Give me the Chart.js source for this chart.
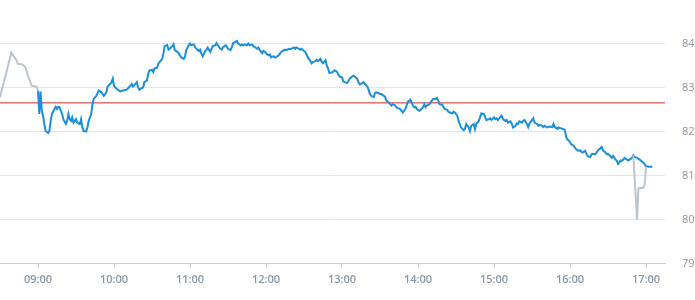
<!DOCTYPE html>
<html>
<head>
<meta charset="utf-8">
<script src="https://cdn.jsdelivr.net/npm/chart.js@4"></script>
<style>
html,body{margin:0;padding:0;background:#fff;}
#c{display:block;}
</style>
</head>
<body>
<canvas id="c" width="695" height="300"></canvas>
<script>
// ---- data ----
const tickLabels = ['09:00','10:00','11:00','12:00','13:00','14:00','15:00','16:00','17:00'];
const axisStart = '08:30';
const axisEnd = '17:15';
const yTicks = [79, 80, 81, 82, 83, 84];
const prevClose = 82.66;

const preTimes  = ['08:30','08:39','08:43','08:44','08:48','08:50','08:52','08:55','08:59','09:00'];
const prePrices = [82.79,83.80,83.63,83.55,83.53,83.47,83.28,83.05,83.03,82.94];

const postTimes  = ['16:50','16:53','16:54','16:58','16:59','17:00'];
const postPrices = [81.47,80.00,80.72,80.73,80.81,81.20];

const sessionTimes = [
'09:00','09:01','09:02','09:03','09:04','09:05','09:06','09:08','09:09','09:10','09:11','09:13','09:14','09:15','09:16','09:17','09:19','09:20','09:22','09:23','09:24','09:25','09:26','09:27','09:28','09:30','09:31','09:33','09:34','09:35','09:36','09:38','09:39','09:40','09:42','09:43','09:44','09:46','09:48','09:50','09:52','09:54','09:55','09:57','09:58','09:59',
'10:00','10:02','10:03','10:05','10:07','10:10','10:13','10:14','10:15','10:17','10:18','10:19','10:20','10:22','10:23','10:24','10:26','10:27','10:28','10:30','10:31','10:32','10:34','10:35','10:36','10:38','10:39','10:40','10:42','10:43','10:44','10:46','10:47','10:48','10:50','10:51','10:52','10:53','10:55','10:56','10:57','10:59',
'11:00','11:01','11:03','11:04','11:05','11:07','11:08','11:09','11:10','11:12','11:13','11:14','11:16','11:17','11:18','11:20','11:21','11:22','11:24','11:25','11:26','11:28','11:29','11:30','11:32','11:33','11:34','11:36','11:37','11:38','11:40','11:41','11:42','11:43','11:45','11:46','11:47','11:49','11:50','11:51','11:53','11:54','11:55','11:57','11:58','11:59',
'12:01','12:02','12:03','12:04','12:06','12:07','12:08','12:10','12:11','12:12','12:14','12:15','12:16','12:18','12:19','12:20','12:22','12:23','12:24','12:26','12:27','12:28','12:30','12:31','12:32','12:33','12:35','12:36','12:37','12:39','12:40','12:41','12:43','12:44','12:45','12:47','12:48','12:49','12:50','12:52','12:53','12:54','12:56','12:57','12:58',
'13:00','13:01','13:02','13:04','13:05','13:06','13:08','13:09','13:10','13:12','13:13','13:14','13:16','13:17','13:18','13:20','13:21','13:22','13:23','13:25','13:26','13:27','13:29','13:30','13:31','13:33','13:34','13:35','13:37','13:38','13:39','13:40','13:42','13:43','13:44','13:46','13:47','13:48','13:50','13:51','13:52','13:54','13:55','13:56','13:57','13:58','13:59',
'14:01','14:02','14:04','14:05','14:06','14:07','14:09','14:11','14:12','14:14','14:15','14:16','14:17','14:19','14:20','14:21','14:23','14:24','14:25','14:27','14:28','14:29','14:31','14:32','14:33','14:34','14:36','14:37','14:38','14:40','14:41','14:42','14:44','14:45','14:46','14:48','14:49','14:50','14:52','14:53','14:54','14:56','14:57','14:58',
'15:00','15:01','15:02','15:03','15:05','15:06','15:07','15:09','15:10','15:11','15:13','15:14','15:15','15:17','15:18','15:19','15:20','15:22','15:23','15:24','15:26','15:27','15:28','15:30','15:31','15:32','15:34','15:35','15:36','15:38','15:39','15:40','15:42','15:43','15:44','15:46','15:47','15:48','15:50','15:51','15:52','15:53','15:55','15:56','15:57','15:58','15:59',
'16:00','16:01','16:03','16:04','16:05','16:07','16:08','16:09','16:10','16:12','16:13','16:14','16:16','16:17','16:18','16:20','16:21','16:22','16:24','16:25','16:26','16:28','16:29','16:30','16:32','16:33','16:34','16:36','16:37','16:38','16:40','16:41','16:42','16:43','16:45','16:46','16:47','16:49','16:50','16:51','16:53','16:55','16:58',
'17:00','17:02','17:05'
];
const sessionPrices = [
82.94,82.41,82.92,82.48,82.37,82.18,82.02,81.98,82.02,82.25,82.41,82.52,82.57,82.52,82.57,82.56,82.41,82.29,82.18,82.25,82.41,82.29,82.25,82.33,82.21,82.29,82.21,82.18,82.29,82.11,82.02,82.01,82.10,82.25,82.41,82.63,82.75,82.82,82.94,82.90,82.82,82.90,83.03,83.09,83.13,83.21,
83.05,82.98,82.96,82.92,82.94,82.96,83.05,83.09,83.03,83.09,83.13,83.01,82.96,83.00,83.01,83.13,83.17,83.32,83.40,83.41,83.36,83.44,83.46,83.55,83.59,83.66,83.78,83.95,83.98,83.87,83.89,83.95,83.99,83.86,83.82,83.79,83.74,83.70,83.66,83.70,83.86,83.97,
84.01,83.97,83.99,83.93,83.89,83.84,83.87,83.78,83.72,83.84,83.87,83.92,83.82,83.89,83.95,83.97,84.02,83.97,83.89,83.87,83.92,83.97,83.95,83.89,83.86,83.93,84.02,84.05,84.07,84.01,83.97,83.99,83.97,83.99,83.97,84.01,83.97,83.99,83.95,83.93,83.89,83.92,83.86,83.79,83.84,83.82,
83.76,83.74,83.76,83.70,83.72,83.69,83.70,83.74,83.78,83.82,83.86,83.87,83.86,83.89,83.88,83.89,83.92,83.89,83.92,83.89,83.87,83.89,83.84,83.82,83.76,83.70,83.61,83.56,83.59,83.61,83.64,83.61,83.66,83.59,83.56,83.63,83.51,83.44,83.34,83.35,83.37,83.40,83.37,83.31,83.26,
83.24,83.15,83.13,83.11,83.15,83.21,83.26,83.28,83.26,83.21,83.13,83.08,83.11,83.13,83.09,83.03,82.96,82.86,82.82,82.79,82.88,82.90,82.88,82.86,82.86,82.82,82.80,82.71,82.67,82.63,82.60,82.63,82.60,82.56,82.54,82.52,82.48,82.44,82.52,82.60,82.69,82.73,82.67,82.60,82.56,82.57,82.52,
82.48,82.50,82.56,82.63,82.56,82.60,82.63,82.71,82.75,82.75,82.77,82.71,82.63,82.62,82.57,82.52,82.50,82.46,82.44,82.42,82.46,82.44,82.37,82.25,82.18,82.10,82.04,82.06,82.18,82.10,82.02,82.14,82.18,82.06,82.18,82.25,82.33,82.42,82.41,82.34,82.27,82.29,82.31,82.27,
82.33,82.29,82.31,82.27,82.34,82.37,82.29,82.25,82.27,82.21,82.24,82.19,82.10,82.14,82.19,82.18,82.24,82.21,82.25,82.27,82.18,82.11,82.19,82.27,82.31,82.21,82.18,82.14,82.16,82.14,82.11,82.14,82.10,82.11,82.12,82.11,82.18,82.11,82.07,82.10,82.09,82.08,82.06,82.04,81.88,81.82,81.81,
81.76,81.72,81.68,81.64,81.60,81.57,81.58,81.55,81.53,81.57,81.50,81.45,81.43,81.49,81.50,81.49,81.53,81.58,81.63,81.66,81.58,81.53,81.49,81.50,81.45,81.41,81.45,81.37,81.34,81.27,81.35,81.34,81.37,81.41,81.37,81.35,81.37,81.41,81.47,81.43,81.41,81.37,81.30,
81.22,81.21,81.21
];

// ---- build ----
function toMin(s){ const p = s.split(':'); return (+p[0])*60 + (+p[1]); }
function fmt(m){ const h = Math.floor(m/60), mm = m%60; return String(h).padStart(2,'0')+':'+String(mm).padStart(2,'0'); }
const pts = (ts, vs) => ts.map((t,i)=>({x: toMin(t), y: vs[i]}));

const sessionData = pts(sessionTimes, sessionPrices);
const extData = pts(preTimes, prePrices).concat([{x: toMin(preTimes[preTimes.length-1]) + 1, y: null}], pts(postTimes, postPrices));
const refData = [{x: toMin(axisStart), y: prevClose}, {x: toMin(axisEnd), y: prevClose}];

const tickColor = '#8c97a4';
const fontFam = '"Open Sans", "Noto Sans", sans-serif';

new Chart(document.getElementById('c'), {
  type: 'line',
  data: {
    datasets: [
      { data: refData, borderColor: '#d22a22', borderWidth: 1, pointRadius: 0, order: 3 },
      { data: sessionData, borderColor: '#1a8fdb', borderWidth: 2, pointRadius: 0, tension: 0, order: 2 },
      { data: extData, borderColor: '#bcc5cd', borderWidth: 2, pointRadius: 0, tension: 0, spanGaps: false, order: 1 }
    ]
  },
  options: {
    responsive: false,
    animation: false,
    devicePixelRatio: 1,
    layout: { padding: { top: 0, bottom: 9, left: 0, right: 0 } },
    plugins: { legend: { display: false }, tooltip: { enabled: false } },
    scales: {
      x: {
        type: 'linear',
        min: toMin(axisStart),
        max: toMin(axisEnd),
        afterBuildTicks: (s) => { s.ticks = tickLabels.map(l => ({ value: toMin(l) })); },
        grid: { drawOnChartArea: false, drawTicks: true, tickLength: 4, color: '#c9ced6' },
        border: { color: '#c9ced6', width: 1 },
        ticks: {
          autoSkip: false, maxRotation: 0, padding: 5,
          color: tickColor,
          font: { family: fontFam, size: 11, weight: '600' },
          callback: (v) => fmt(v)
        }
      },
      y: {
        position: 'right',
        min: 79,
        max: 85,
        afterBuildTicks: (s) => { s.ticks = yTicks.concat([85]).map(v => ({ value: v })); },
        afterFit: (s) => { s.width = 30; s.paddingTop = 0; s.paddingBottom = 0; },
        grid: {
          drawTicks: false,
          color: (ctx) => (ctx.tick && ctx.tick.value === 85) ? 'rgba(0,0,0,0)' : '#e3e6ea'
        },
        border: { display: false },
        ticks: {
          padding: 17,
          color: tickColor,
          font: { family: fontFam, size: 11 },
          callback: (v) => v === 85 ? '' : String(v)
        }
      }
    }
  }
});
</script>
</body>
</html>
